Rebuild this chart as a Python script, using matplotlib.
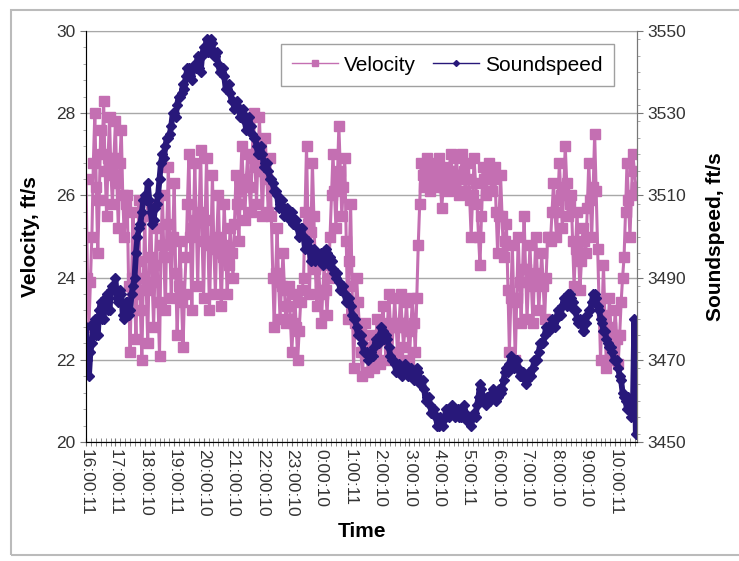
import numpy as np
import matplotlib
matplotlib.use('Agg')
import matplotlib.pyplot as plt
from matplotlib.patches import Rectangle
from matplotlib.lines import Line2D
from matplotlib.ticker import MultipleLocator

plt.rcParams['font.family'] = ['Liberation Sans', 'DejaVu Sans']

# time labels on the category axis (one per hour)
time_labels = ['16:00:11', '17:00:11', '18:00:10', '19:00:11', '20:00:10', '21:00:10',
               '22:00:10', '23:00:10', '0:00:10', '1:00:11', '2:00:10', '3:00:10',
               '4:00:10', '5:00:11', '6:00:10', '7:00:10', '8:00:10', '9:00:10', '10:00:11']

# velocity, ft/s - read at 0.0, 0.1, 0.2 ... h from the picture
velocity = [
    26.4, 22.8, 25.0, 28.0, 24.6, 27.6, 28.3, 25.5, 27.9, 25.8,
    27.8, 25.2, 27.6, 25.0, 26.0, 22.2, 25.6, 22.5, 25.9, 22.0,
    25.5, 22.4, 25.8, 22.8, 25.2, 22.1, 26.0, 23.2, 26.7, 23.5,
    26.3, 22.6, 24.9, 22.3, 24.5, 27.0, 23.2, 26.8, 23.8, 27.1,
    23.5, 26.9, 23.2, 26.5, 23.6, 26.0, 23.3, 25.8, 23.6, 25.2,
    24.0, 26.5, 24.9, 27.2, 25.4, 27.0, 25.6, 28.0, 25.8, 27.9,
    25.5, 27.4, 25.6, 25.5, 22.8, 25.2, 23.0, 24.6, 22.9, 23.8,
    22.2, 23.6, 22.0, 23.4, 24.0, 27.2, 23.6, 26.8, 24.2, 24.5,
    22.9, 24.3, 23.1, 25.0, 27.0, 25.2, 27.7, 25.5, 26.9, 23.0,
    25.8, 21.8, 24.0, 22.8, 21.6, 22.9, 21.7, 22.6, 21.8, 23.0,
    21.9, 23.3, 22.0, 23.6, 22.2, 23.5, 22.1, 23.6, 22.3, 23.4,
    22.0, 23.5, 22.2, 24.8, 26.8, 26.2, 26.9, 26.1, 26.8, 26.2,
    26.9, 25.7, 26.7, 26.1, 27.0, 26.2, 26.9, 26.0, 27.0, 26.1,
    26.8, 25.0, 26.9, 25.8, 24.3, 26.7, 26.0, 26.8, 26.1, 26.7,
    24.6, 26.5, 24.5, 25.3, 22.2, 24.8, 22.0, 25.0, 22.9, 25.5,
    23.0, 24.8, 22.9, 25.0, 23.2, 24.6, 23.0, 25.0, 24.9, 26.3,
    25.0, 26.8, 25.2, 27.2, 25.5, 26.0, 23.8, 25.6, 23.7, 25.2,
    24.6, 26.8, 25.0, 27.5, 24.7, 22.0, 24.3, 21.8, 23.5, 22.0,
    23.2, 21.9, 23.4, 24.5, 26.8, 25.0, 27.0, 26.2,
]

# velocity readings in between (0.05, 0.15, 0.25 ... h)
velocity_mid = [
    24.0, 23.9, 26.8, 26.2, 25.9, 27.0, 26.6, 26.9, 26.5, 26.9,
    26.3, 26.8, 26.0, 25.8, 23.8, 24.0, 23.6, 24.4, 23.2, 24.0,
    23.7, 24.5, 23.9, 24.3, 23.4, 24.8, 24.5, 25.3, 24.8, 25.0,
    24.1, 23.8, 23.4, 23.6, 25.8, 25.0, 25.2, 25.4, 25.6, 24.9,
    25.4, 24.8, 24.9, 24.7, 25.0, 24.6, 24.5, 24.8, 24.3, 24.6,
    25.3, 25.8, 26.1, 26.3, 26.4, 26.2, 26.9, 26.7, 27.0, 26.6,
    26.6, 26.4, 26.9, 24.0, 24.1, 23.9, 23.8, 23.7, 23.3, 23.0,
    22.9, 22.8, 22.7, 23.7, 25.6, 25.3, 25.1, 25.5, 23.3, 23.7,
    23.6, 23.7, 24.0, 26.0, 26.1, 26.4, 26.6, 26.2, 24.9, 24.4,
    23.8, 22.9, 23.4, 22.2, 22.3, 22.3, 22.2, 22.2, 22.4, 22.5,
    22.6, 22.7, 22.8, 22.9, 22.8, 22.8, 22.9, 22.9, 22.8, 22.7,
    22.8, 22.9, 23.5, 25.8, 26.5, 26.6, 26.5, 26.4, 26.5, 26.6,
    26.3, 26.2, 26.4, 26.6, 26.6, 26.5, 26.4, 26.5, 26.6, 26.4,
    25.9, 26.0, 26.3, 25.0, 25.5, 26.4, 26.4, 26.5, 26.4, 25.6,
    25.5, 25.5, 24.9, 23.7, 23.5, 23.4, 23.5, 23.9, 24.2, 24.2,
    23.9, 23.8, 24.0, 24.1, 23.9, 23.8, 24.0, 25.0, 25.6, 25.6,
    25.9, 26.0, 26.2, 26.3, 25.8, 24.9, 24.7, 24.6, 24.4, 24.9,
    25.7, 25.9, 26.2, 26.1, 23.4, 23.1, 23.0, 22.7, 22.8, 22.6,
    22.5, 22.6, 24.0, 25.6, 25.9, 26.0, 26.6,
]

# soundspeed, ft/s - read at 0.0, 0.1, 0.2 ... h
soundspeed = [
    3478, 3466, 3474, 3480, 3476, 3484, 3480, 3486, 3482, 3488,
    3490, 3484, 3486, 3480, 3484, 3482, 3488, 3496, 3502, 3506,
    3510, 3513, 3506, 3504, 3508, 3514, 3520, 3522, 3524, 3527,
    3530, 3532, 3534, 3537, 3539, 3541, 3538, 3542, 3544, 3540,
    3546, 3548, 3546, 3547, 3544, 3542, 3540, 3539, 3536, 3535,
    3533, 3532, 3531, 3530, 3528, 3527, 3527, 3524, 3522, 3520,
    3520, 3518, 3516, 3514, 3511, 3510, 3508, 3507, 3506, 3505,
    3506, 3504, 3502, 3502, 3500, 3498, 3497, 3496, 3494, 3495,
    3496, 3494, 3496, 3495, 3492, 3490, 3489, 3488, 3486, 3484,
    3483, 3480, 3478, 3476, 3474, 3472, 3470, 3472, 3473, 3474,
    3476, 3477, 3476, 3473, 3470, 3469, 3468, 3468, 3467, 3468,
    3467, 3467, 3466, 3467, 3465, 3463, 3461, 3459, 3457, 3456,
    3454, 3455, 3456, 3458, 3457, 3458, 3457, 3456, 3458, 3457,
    3455, 3454, 3457, 3459, 3464, 3461, 3459, 3460, 3462, 3462,
    3461, 3462, 3465, 3468, 3469, 3470, 3470, 3468, 3466, 3466,
    3465, 3466, 3468, 3470, 3472, 3474, 3476, 3478, 3478, 3479,
    3480, 3481, 3483, 3484, 3486, 3485, 3482, 3480, 3480, 3477,
    3479, 3482, 3484, 3486, 3483, 3480, 3477, 3475, 3473, 3472,
    3470, 3468, 3465, 3461, 3458, 3459, 3458, 3452,
]

# soundspeed readings in between (0.05, 0.15, 0.25 ... h)
soundspeed_mid = [
    3470, 3472, 3479, 3476, 3482, 3480, 3485, 3482, 3487, 3487,
    3485, 3487, 3481, 3484, 3481, 3486, 3490, 3500, 3503, 3509,
    3509, 3509, 3503, 3507, 3510, 3518, 3519, 3524, 3525, 3530,
    3529, 3534, 3535, 3536, 3541, 3539, 3541, 3541, 3541, 3544,
    3545, 3545, 3548, 3544, 3545, 3540, 3541, 3536, 3537, 3533,
    3531, 3533, 3529, 3531, 3526, 3529, 3525, 3524, 3520, 3522,
    3517, 3518, 3514, 3513, 3511, 3507, 3509, 3505, 3507, 3504,
    3503, 3504, 3500, 3502, 3497, 3499, 3494, 3497, 3496, 3494,
    3493, 3497, 3493, 3494, 3491, 3491, 3487, 3488, 3484, 3485,
    3481, 3480, 3476, 3476, 3472, 3472, 3471, 3471, 3475, 3474,
    3478, 3475, 3475, 3471, 3470, 3467, 3469, 3466, 3469, 3466,
    3468, 3465, 3468, 3464, 3465, 3460, 3461, 3457, 3458, 3454,
    3456, 3454, 3458, 3456, 3459, 3456, 3458, 3456, 3459, 3455,
    3456, 3456, 3456, 3461, 3463, 3460, 3461, 3460, 3463, 3460,
    3463, 3463, 3467, 3467, 3471, 3468, 3470, 3466, 3467, 3464,
    3467, 3466, 3470, 3470, 3474, 3474, 3478, 3477, 3480, 3478,
    3482, 3481, 3485, 3483, 3486, 3484, 3482, 3479, 3479, 3477,
    3481, 3482, 3486, 3485, 3482, 3479, 3477, 3474, 3473, 3470,
    3470, 3466, 3462, 3460, 3461, 3456, 3480,
]

n = len(velocity) + len(velocity_mid)
hours = np.arange(n) * 0.05
vel_all = np.empty(n)
vel_all[0::2] = velocity
vel_all[1::2] = velocity_mid
ss_all = np.empty(n)
ss_all[0::2] = soundspeed
ss_all[1::2] = soundspeed_mid

vel_color = '#C46FB2'
ss_color = '#28187A'
txt = '#333333'

fig = plt.figure(figsize=(7.39, 5.61), dpi=100)
fig.patches.append(Rectangle((11/739, 6/561), 1.0, 1 - 16/561, transform=fig.transFigure,
                             fill=False, edgecolor='#BBBBBB', lw=1.5))

ax1 = fig.add_axes([86/739, 119/561, 551/739, 411/561])
ax1.plot(hours, vel_all, color=vel_color, lw=2.2, marker='s', ms=6.5, mec=vel_color)
ax1.set_xlim(0, 18.74)
ax1.set_ylim(20, 30)
ax1.set_yticks([20, 22, 24, 26, 28, 30])
ax1.yaxis.set_minor_locator(MultipleLocator(0.4))
ax1.grid(axis='y', color='#A8A8A8', lw=1)
ax1.set_axisbelow(True)
ax1.set_xticks(np.arange(len(time_labels)))
ax1.set_xticklabels(time_labels, rotation=-90, fontsize=12.5, color=txt)
ax1.xaxis.set_minor_locator(MultipleLocator(1/6))
ax1.tick_params(axis='x', which='both', direction='inout', length=6, color='#777777', pad=2)
ax1.tick_params(axis='y', which='major', direction='out', length=4, color='#777777',
                labelsize=12.5, labelcolor=txt)
ax1.tick_params(axis='y', which='minor', direction='out', length=2, color='#999999')
ax1.set_ylabel('Velocity, ft/s', fontsize=15, fontweight='bold', labelpad=12)
ax1.set_xlabel('Time', fontsize=15, fontweight='bold', labelpad=4)
for s in ['left', 'bottom', 'right']:
    ax1.spines[s].set_color('#777777')
ax1.spines['top'].set_color('#A8A8A8')

ax2 = ax1.twinx()
ax2.plot(hours, ss_all, color=ss_color, lw=4.2, marker='D', ms=5, mec=ss_color)
ax2.set_ylim(3450, 3550)
ax2.set_yticks([3450, 3470, 3490, 3510, 3530, 3550])
ax2.yaxis.set_minor_locator(MultipleLocator(4))
ax2.tick_params(axis='y', which='major', direction='out', length=4, color='#777777',
                labelsize=12.5, labelcolor=txt)
ax2.tick_params(axis='y', which='minor', direction='out', length=2, color='#999999')
ax2.set_ylabel('Soundspeed, ft/s', fontsize=15, fontweight='bold', labelpad=14)
ax2.spines['right'].set_color('#777777')
ax2.spines['top'].set_visible(False)

handles = [Line2D([], [], color=vel_color, lw=1, marker='s', ms=5),
           Line2D([], [], color=ss_color, lw=1, marker='D', ms=3)]
leg = ax2.legend(handles, ['Velocity', 'Soundspeed'], ncol=2, fontsize=15, loc='upper right',
                 bbox_to_anchor=(0.958, 0.968), borderaxespad=0, frameon=True, fancybox=False,
                 handlelength=2.2, columnspacing=0.8, handletextpad=0.3, borderpad=0.55)
leg.get_frame().set_edgecolor('#888888')
leg.get_frame().set_linewidth(1)

fig.savefig('out.png', dpi=100)
